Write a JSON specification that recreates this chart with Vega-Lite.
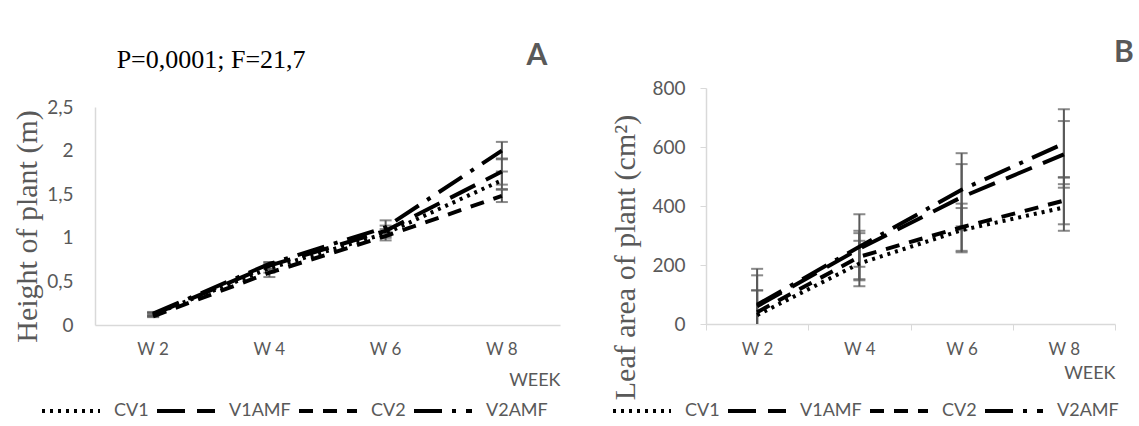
{
  "$schema": "https://vega.github.io/schema/vega-lite/v6.json",
  "background": "white",
  "padding": {"left": 12, "top": 38, "right": 5, "bottom": 0},
  "spacing": 50,
  "datasets": {
    "height": [
      {"week": "W 2", "series": "CV1", "value": 0.12, "lo": 0.10, "hi": 0.14},
      {"week": "W 2", "series": "V1AMF", "value": 0.12, "lo": 0.10, "hi": 0.14},
      {"week": "W 2", "series": "CV2", "value": 0.10, "lo": 0.09, "hi": 0.12},
      {"week": "W 2", "series": "V2AMF", "value": 0.13, "lo": 0.11, "hi": 0.15},
      {"week": "W 4", "series": "CV1", "value": 0.65, "lo": 0.60, "hi": 0.70},
      {"week": "W 4", "series": "V1AMF", "value": 0.68, "lo": 0.64, "hi": 0.72},
      {"week": "W 4", "series": "CV2", "value": 0.60, "lo": 0.55, "hi": 0.65},
      {"week": "W 4", "series": "V2AMF", "value": 0.70, "lo": 0.68, "hi": 0.72},
      {"week": "W 6", "series": "CV1", "value": 1.05, "lo": 1.00, "hi": 1.10},
      {"week": "W 6", "series": "V1AMF", "value": 1.08, "lo": 1.02, "hi": 1.14},
      {"week": "W 6", "series": "CV2", "value": 1.02, "lo": 0.97, "hi": 1.07},
      {"week": "W 6", "series": "V2AMF", "value": 1.12, "lo": 1.04, "hi": 1.20},
      {"week": "W 8", "series": "CV1", "value": 1.66, "lo": 1.56, "hi": 1.76},
      {"week": "W 8", "series": "V1AMF", "value": 1.76, "lo": 1.61, "hi": 1.91},
      {"week": "W 8", "series": "CV2", "value": 1.48, "lo": 1.41, "hi": 1.55},
      {"week": "W 8", "series": "V2AMF", "value": 2.00, "lo": 1.90, "hi": 2.10}
    ],
    "leaf": [
      {"week": "W 2", "series": "CV1", "value": 30, "lo": -54, "hi": 114},
      {"week": "W 2", "series": "V1AMF", "value": 60, "lo": -45, "hi": 165},
      {"week": "W 2", "series": "CV2", "value": 40, "lo": -34, "hi": 114},
      {"week": "W 2", "series": "V2AMF", "value": 65, "lo": -57, "hi": 187},
      {"week": "W 4", "series": "CV1", "value": 205, "lo": 128, "hi": 282},
      {"week": "W 4", "series": "V1AMF", "value": 255, "lo": 194, "hi": 316},
      {"week": "W 4", "series": "CV2", "value": 228, "lo": 148, "hi": 308},
      {"week": "W 4", "series": "V2AMF", "value": 262, "lo": 152, "hi": 372},
      {"week": "W 6", "series": "CV1", "value": 318, "lo": 243, "hi": 393},
      {"week": "W 6", "series": "V1AMF", "value": 430, "lo": 318, "hi": 542},
      {"week": "W 6", "series": "CV2", "value": 328, "lo": 248, "hi": 408},
      {"week": "W 6", "series": "V2AMF", "value": 455, "lo": 331, "hi": 579},
      {"week": "W 8", "series": "CV1", "value": 395, "lo": 316, "hi": 474},
      {"week": "W 8", "series": "V1AMF", "value": 575, "lo": 462, "hi": 688},
      {"week": "W 8", "series": "CV2", "value": 418, "lo": 338, "hi": 498},
      {"week": "W 8", "series": "V2AMF", "value": 612, "lo": 496, "hi": 728}
    ],
    "noteA": [
      {"label": "P=0,0001; F=21,7", "week": "W 2", "y": 3.04, "kind": "stat"},
      {"label": "A", "week": "W 8", "y": 3.08, "kind": "panel"}
    ],
    "noteB": [
      {"label": "B", "week": "W 8", "y": 918, "kind": "panel"}
    ]
  },
  "config": {
    "view": {"stroke": null},
    "font": "Lato",
    "axis": {
      "grid": false,
      "domainColor": "#d9d9d9",
      "domainWidth": 1.5,
      "tickColor": "#d9d9d9",
      "labelColor": "#595959",
      "titleColor": "#595959",
      "labelFont": "Lato"
    }
  },
  "resolve": {
    "scale": {"x": "independent", "y": "independent", "strokeDash": "independent"},
    "legend": {"strokeDash": "independent"}
  },
  "hconcat": [
    {
      "width": 465,
      "height": 237,
      "layer": [
        {
          "data": {"name": "height"},
          "mark": {"type": "rule", "color": "#595959", "strokeWidth": 2},
          "encoding": {
            "x": {"field": "week", "type": "ordinal", "sort": ["W 2", "W 4", "W 6", "W 8"], "scale": {"type": "band", "paddingInner": 0, "paddingOuter": 0},
              "axis": {"title": "WEEK", "titleAnchor": "end", "titleFont": "Lato", "titleFontSize": 18, "titleFontWeight": "normal", "titlePadding": 14, "labelFontSize": 17, "labelAngle": 0, "labelPadding": 16, "ticks": false}},
            "y": {"field": "lo", "type": "quantitative", "scale": {"domain": [0, 2.5], "range": [237, 19], "nice": false, "zero": false},
              "axis": {"values": [0, 0.5, 1, 1.5, 2, 2.5], "labelExpr": "replace(format(datum.value, '.1~f'), '.', ',')", "ticks": false, "labelPadding": 22, "labelFontSize": 19,
                "title": "Height of plant (m)", "titleFont": "Liberation Serif", "titleFontSize": 30, "titleFontWeight": "normal", "titlePadding": 4, "titleY": 138}},
            "y2": {"field": "hi"}
          }
        },
        {
          "data": {"name": "height"},
          "mark": {"type": "tick", "color": "#595959", "thickness": 2, "size": 12},
          "encoding": {
            "x": {"field": "week", "type": "ordinal", "sort": ["W 2", "W 4", "W 6", "W 8"]},
            "y": {"field": "lo", "type": "quantitative"}
          }
        },
        {
          "data": {"name": "height"},
          "mark": {"type": "tick", "color": "#595959", "thickness": 2, "size": 12},
          "encoding": {
            "x": {"field": "week", "type": "ordinal", "sort": ["W 2", "W 4", "W 6", "W 8"]},
            "y": {"field": "hi", "type": "quantitative"}
          }
        },
        {
          "data": {"name": "height"},
          "mark": {"type": "line", "color": "black", "strokeWidth": 4},
          "encoding": {
            "x": {"field": "week", "type": "ordinal", "sort": ["W 2", "W 4", "W 6", "W 8"]},
            "y": {"field": "value", "type": "quantitative"},
            "strokeDash": {"field": "series", "type": "nominal",
              "scale": {"domain": ["CV1", "V1AMF", "CV2", "V2AMF"], "range": [[3, 5], [28, 12], [14, 10], [28, 10, 4, 10]]},
              "legend": {"orient": "none", "legendX": -55, "legendY": 292, "direction": "horizontal", "columns": 4, "title": null,
                "symbolType": "stroke", "symbolSize": 3364, "symbolStrokeWidth": 4, "symbolStrokeColor": "black",
                "labelFontSize": 18, "labelColor": "#595959", "labelFont": "Lato", "labelOffset": 12, "columnPadding": 0, "labelLimit": 200}}
          }
        },
        {
          "data": {"name": "noteA"},
          "transform": [{"filter": "datum.kind === 'stat'"}],
          "mark": {"type": "text", "font": "Liberation Serif", "fontSize": 26, "color": "black", "dx": 58, "baseline": "middle", "align": "center"},
          "encoding": {
            "x": {"field": "week", "type": "ordinal"},
            "y": {"field": "y", "type": "quantitative"},
            "text": {"field": "label"}
          }
        },
        {
          "data": {"name": "noteA"},
          "transform": [{"filter": "datum.kind === 'panel'"}],
          "mark": {"type": "text", "font": "Lato", "fontSize": 30, "fontWeight": "bold", "color": "#595959", "dx": 35, "baseline": "middle", "align": "center"},
          "encoding": {
            "x": {"field": "week", "type": "ordinal"},
            "y": {"field": "y", "type": "quantitative"},
            "text": {"field": "label"}
          }
        }
      ]
    },
    {
      "width": 409,
      "height": 236,
      "layer": [
        {
          "data": {"name": "leaf"},
          "mark": {"type": "rule", "color": "#595959", "strokeWidth": 2, "clip": true},
          "encoding": {
            "x": {"field": "week", "type": "ordinal", "sort": ["W 2", "W 4", "W 6", "W 8"], "scale": {"type": "band", "paddingInner": 0, "paddingOuter": 0},
              "axis": {"title": "WEEK", "titleAnchor": "end", "titleFont": "Lato", "titleFontSize": 18, "titleFontWeight": "normal", "titlePadding": 7, "labelFontSize": 17, "labelAngle": 0, "labelPadding": 11, "ticks": true, "tickSize": 6, "tickBand": "extent"}},
            "y": {"field": "lo", "type": "quantitative", "scale": {"domain": [0, 800], "nice": false},
              "axis": {"values": [0, 200, 400, 600, 800], "ticks": true, "tickSize": 6, "labelPadding": 15, "labelFontSize": 19,
                "title": "Leaf  area of plant (cm²)", "titleFont": "Liberation Serif", "titleFontSize": 30, "titleFontWeight": "normal", "titlePadding": 11, "titleY": 169}},
            "y2": {"field": "hi"}
          }
        },
        {
          "data": {"name": "leaf"},
          "mark": {"type": "tick", "color": "#595959", "thickness": 2, "size": 12, "clip": true},
          "encoding": {
            "x": {"field": "week", "type": "ordinal", "sort": ["W 2", "W 4", "W 6", "W 8"]},
            "y": {"field": "lo", "type": "quantitative"}
          }
        },
        {
          "data": {"name": "leaf"},
          "mark": {"type": "tick", "color": "#595959", "thickness": 2, "size": 12},
          "encoding": {
            "x": {"field": "week", "type": "ordinal", "sort": ["W 2", "W 4", "W 6", "W 8"]},
            "y": {"field": "hi", "type": "quantitative"}
          }
        },
        {
          "data": {"name": "leaf"},
          "mark": {"type": "line", "color": "black", "strokeWidth": 4},
          "encoding": {
            "x": {"field": "week", "type": "ordinal", "sort": ["W 2", "W 4", "W 6", "W 8"]},
            "y": {"field": "value", "type": "quantitative"},
            "strokeDash": {"field": "series", "type": "nominal",
              "scale": {"domain": ["CV1", "V1AMF", "CV2", "V2AMF"], "range": [[3, 5], [28, 12], [14, 10], [28, 10, 4, 10]]},
              "legend": {"orient": "none", "legendX": -95, "legendY": 292, "direction": "horizontal", "columns": 4, "title": null,
                "symbolType": "stroke", "symbolSize": 3364, "symbolStrokeWidth": 4, "symbolStrokeColor": "black",
                "labelFontSize": 18, "labelColor": "#595959", "labelFont": "Lato", "labelOffset": 12, "columnPadding": 0, "labelLimit": 200}}
          }
        },
        {
          "data": {"name": "noteB"},
          "mark": {"type": "text", "font": "Lato", "fontSize": 30, "fontWeight": "bold", "color": "#595959", "dx": 60, "baseline": "middle", "align": "center"},
          "encoding": {
            "x": {"field": "week", "type": "ordinal"},
            "y": {"field": "y", "type": "quantitative"},
            "text": {"field": "label"}
          }
        }
      ]
    }
  ]
}
